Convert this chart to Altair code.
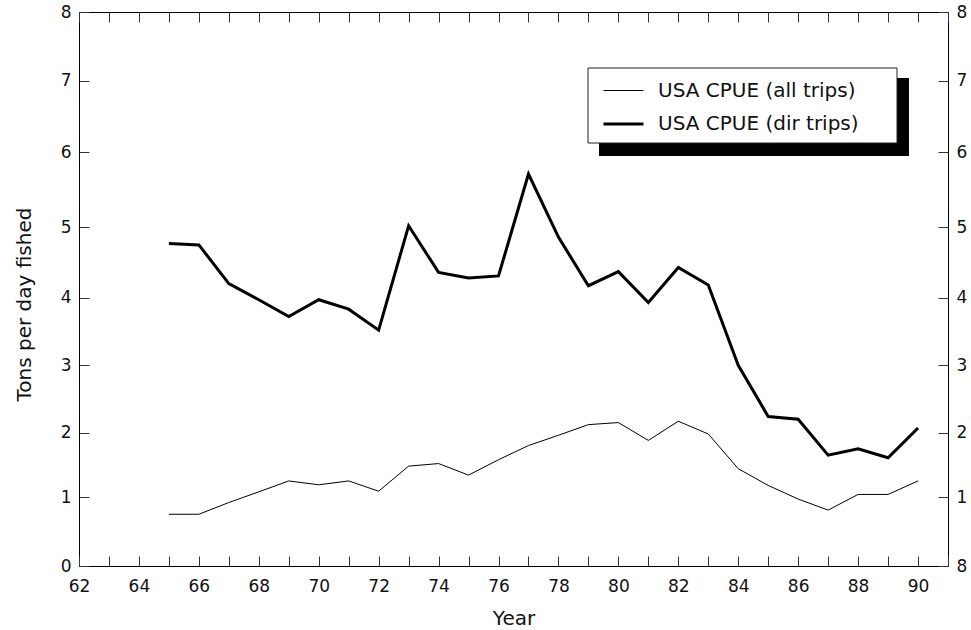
import altair as alt
import pandas as pd

# ---- data ----
years = list(range(65, 91))
all_trips = [0.75, 0.75, 0.92, 1.08, 1.25, 1.19, 1.25, 1.09, 1.48, 1.52, 1.34, 1.58, 1.80,
             1.96, 2.12, 2.15, 1.88, 2.17, 1.98, 1.44, 1.18, 0.97, 0.81, 1.04, 1.04, 1.25]
dir_trips = [4.77, 4.75, 4.20, 3.97, 3.72, 3.97, 3.83, 3.52, 5.02, 4.36, 4.28, 4.31, 5.71,
             4.86, 4.17, 4.37, 3.93, 4.43, 4.18, 3.00, 2.24, 2.20, 1.65, 1.75, 1.61, 2.07]
series_names = ["USA CPUE (all trips)", "USA CPUE (dir trips)"]
x_ticks = list(range(62, 92))
y_ticks = list(range(0, 9))

df = pd.DataFrame({
    "year": years + years,
    "cpue": all_trips + dir_trips,
    "series": [series_names[0]] * len(years) + [series_names[1]] * len(years),
})

FONT = "DejaVu Sans"
W, H = 869, 554
# the reference's y axis is slightly unevenly spaced; follow its tick positions
y_range = [554, 485, 420.7, 353.3, 285.7, 215.3, 140.3, 68.7, 0]

xscale = alt.Scale(domain=[62, 91], nice=False, zero=False)
yscale = alt.Scale(domain=y_ticks, range=y_range, nice=False, zero=False)

lines = alt.Chart(df).mark_line(color="black").encode(
    x=alt.X("year:Q", scale=xscale,
            axis=alt.Axis(orient="bottom", values=x_ticks, format="d",
                          labelExpr="datum.value % 2 == 0 && datum.value <= 90 ? datum.label : ''",
                          offset=-10, tickSize=10, labelPadding=12, labelFlush=False,
                          labelOverlap=False, title="Year", titleBaseline="alphabetic",
                          titleY=68)),
    y=alt.Y("cpue:Q", scale=yscale,
            axis=alt.Axis(orient="left", values=y_ticks, format="d",
                          offset=-10, tickSize=10, labelPadding=8, labelOverlap=False,
                          title="Tons per day fished", titlePadding=26, titleY=292)),
    strokeWidth=alt.StrokeWidth(
        "series:O",
        scale=alt.Scale(domain=series_names, range=[1, 3]),
        legend=alt.Legend(orient="none", legendX=523, legendY=58, title=None,
                          symbolType="stroke", symbolSize=1600, symbolStrokeColor="black",
                          labelFont=FONT, labelFontSize=20, labelColor="#111",
                          labelOffset=13, rowPadding=1.5, padding=0, labelLimit=400),
    ),
)

ghost = alt.Chart(df).mark_point(opacity=0).encode(
    x=alt.X("year:Q", scale=xscale,
            axis=alt.Axis(orient="top", values=x_ticks, labels=False, offset=-10,
                          tickSize=10, title=None)),
    y=alt.Y("cpue:Q", scale=yscale,
            axis=alt.Axis(orient="right", values=y_ticks, format="d",
                          labelExpr="datum.value == 0 ? '8' : datum.label",
                          offset=-10, tickSize=10, labelPadding=8, labelOverlap=False,
                          title=None)),
)

one = pd.DataFrame({"k": [0]})
shadow = alt.Chart(one).mark_rect(color="black").encode(
    x=alt.value(520), x2=alt.value(830), y=alt.value(66), y2=alt.value(144)
)
box = alt.Chart(one).mark_rect(fill="white", stroke="#222", strokeWidth=1).encode(
    x=alt.value(509), x2=alt.value(818), y=alt.value(56), y2=alt.value(131)
)

chart = alt.layer(lines, ghost, shadow, box).resolve_axis(
    x="independent", y="independent"
).properties(
    width=W, height=H,
    autosize=alt.AutoSizeParams(type="none"),
    padding={"left": 79, "top": 12, "right": 23, "bottom": 64},
    background="white",
).configure_view(
    stroke="black", strokeWidth=1
).configure_axis(
    grid=False, domain=False,
    labelFont=FONT, titleFont=FONT, labelFontSize=17, titleFontSize=20,
    labelColor="#111", titleColor="#111", titleFontWeight="normal",
    tickColor="#333", tickWidth=1,
)

chart.save("out.html", embed_options={"renderer": "svg", "actions": False})
